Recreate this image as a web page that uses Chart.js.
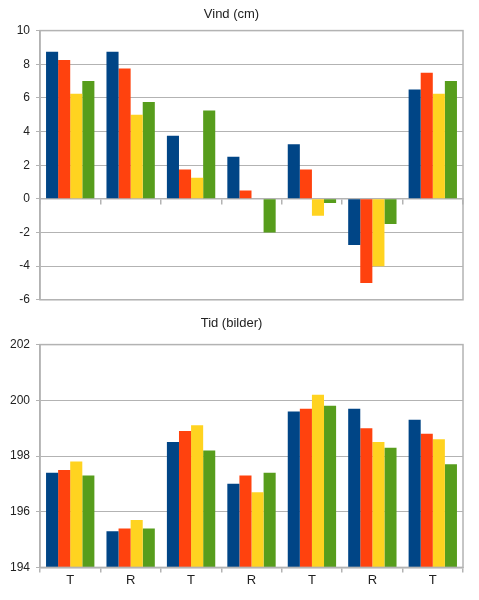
<!DOCTYPE html>
<html lang="no">
<head>
  <meta charset="UTF-8" />
  <title>Vind og tid</title>
  <script src="https://cdn.jsdelivr.net/npm/chart.js"></script>
  <style>
    body { margin: 0; background: #fff; }
    .wrap { position: relative; width: 479px; }
    #vindBox { height: 313px; }
    #tidBox { height: 287px; }
  </style>
</head>
<body>
  <div class="wrap" id="vindBox"><canvas id="vindChart"></canvas></div>
  <div class="wrap" id="tidBox"><canvas id="tidChart"></canvas></div>

  <script>
    // kategorier
    const categories = ['T', 'R', 'T', 'R', 'T', 'R', 'T'];
    const seriesNames = ['Serie 1', 'Serie 2', 'Serie 3', 'Serie 4'];
    const seriesColors = ['#004586', '#ff420e', '#ffd320', '#579d1c'];

    // Vind (cm)
    const vind1 = [8.75, 8.75, 3.75, 2.5, 3.25, -2.75, 6.5];
    const vind2 = [8.25, 7.75, 1.75, 0.5, 1.75, -5.0, 7.5];
    const vind3 = [6.25, 5.0, 1.25, 0, -1.0, -4.0, 6.25];
    const vind4 = [7.0, 5.75, 5.25, -2.0, -0.25, -1.5, 7.0];
    const vindTicks = [-6, -4, -2, 0, 2, 4, 6, 8, 10];

    // Tid (bilder)
    const tid1 = [197.4, 195.3, 198.5, 197.0, 199.6, 199.7, 199.3];
    const tid2 = [197.5, 195.4, 198.9, 197.3, 199.7, 199.0, 198.8];
    const tid3 = [197.8, 195.7, 199.1, 196.7, 200.2, 198.5, 198.6];
    const tid4 = [197.3, 195.4, 198.2, 197.4, 199.8, 198.3, 197.7];
    const tidTicks = [194, 196, 198, 200, 202];

    const FONT = '"Liberation Sans", Arial, sans-serif';
    const GRID = '#b3b3b3';

    // ramme rundt plottet (topp og høyre kant)
    const frame = {
      id: 'frame',
      afterDraw(chart) {
        const a = chart.chartArea, c = chart.ctx;
        c.save();
        c.strokeStyle = GRID;
        c.lineWidth = 1.5;
        c.strokeRect(a.left, a.top, a.right - a.left, a.bottom - a.top);
        c.restore();
      }
    };

    function makeSets(list) {
      return list.map((d, i) => ({
        label: seriesNames[i],
        data: d,
        backgroundColor: seriesColors[i],
        borderWidth: 0,
        categoryPercentage: 0.8,
        barPercentage: 1.0
      }));
    }

    function makeChart(id, title, sets, ticks, showLabels, xAtZero, pad, titlePad) {
      const tickMin = ticks[0], tickMax = ticks[ticks.length - 1];
      return new Chart(document.getElementById(id), {
        type: 'bar',
        data: { labels: categories, datasets: makeSets(sets) },
        plugins: [frame],
        options: {
          responsive: true,
          maintainAspectRatio: false,
          animation: false,
          layout: { padding: { left: 0, right: 16, top: 0, bottom: pad } },
          plugins: {
            legend: { display: false },
            tooltip: { enabled: false },
            title: {
              display: true,
              text: title,
              color: '#222',
              font: { family: FONT, size: 13, weight: 'normal' },
              padding: titlePad
            }
          },
          scales: {
            x: {
              position: xAtZero ? { y: 0 } : 'bottom',
              offset: true,
              grid: { offset: true, drawOnChartArea: false, drawTicks: true, tickLength: 5, color: GRID, lineWidth: 1.5 },
              border: { display: true, color: GRID, width: 1.5 },
              ticks: {
                color: '#222',
                font: { family: FONT, size: 13 },
                padding: 0,
                maxRotation: 0,
                callback: function (v, i) { return showLabels ? categories[i] : ''; }
              }
            },
            y: {
              min: tickMin,
              max: tickMax,
              afterFit(scale) { scale.width = 40; },
              afterBuildTicks(scale) { scale.ticks = ticks.map(v => ({ value: v })); },
              grid: { color: GRID, lineWidth: 1, tickLength: 4 },
              border: { display: true, color: GRID, width: 1.5 },
              ticks: {
                color: '#222',
                font: { family: FONT, size: 12 },
                padding: 6
              }
            }
          }
        }
      });
    }

    makeChart('vindChart', 'Vind (cm)', [vind1, vind2, vind3, vind4], vindTicks, false, true, 0, { top: 7, bottom: 8 });
    makeChart('tidChart', 'Tid (bilder)', [tid1, tid2, tid3, tid4], tidTicks, true, false, 12, { top: 3, bottom: 13 });
  </script>
</body>
</html>
